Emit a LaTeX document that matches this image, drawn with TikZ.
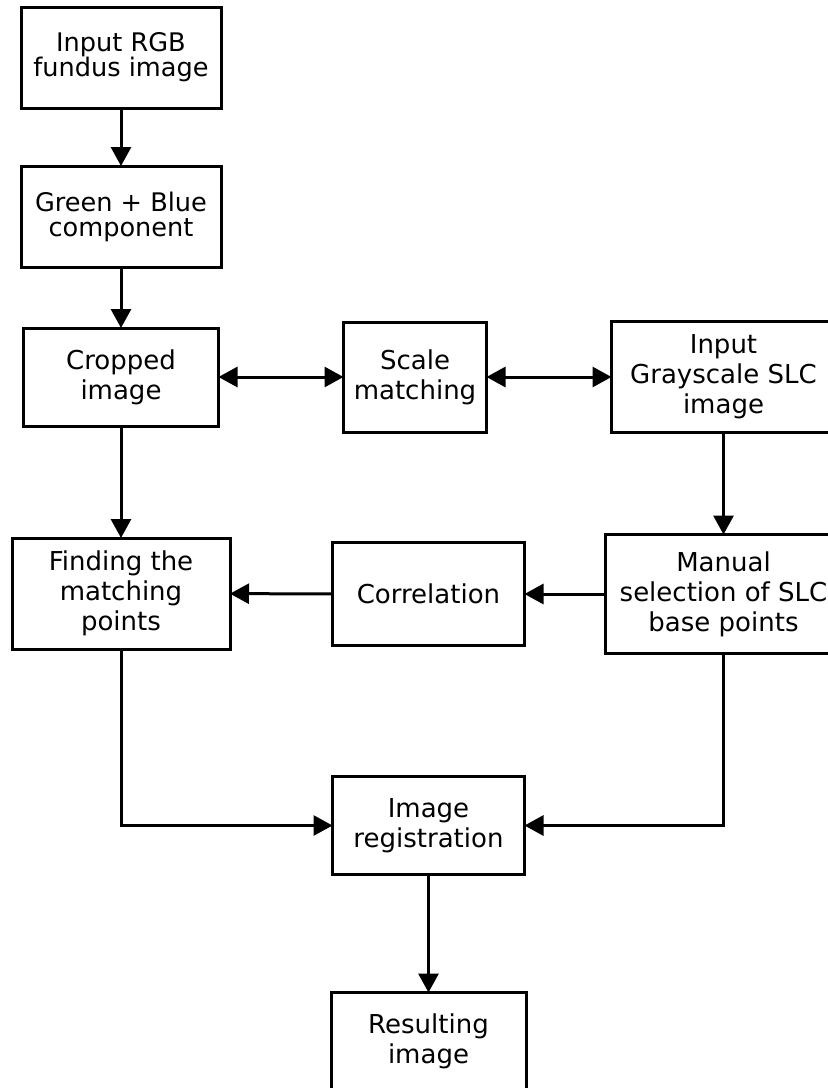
\documentclass[tikz,border=0pt]{standalone}
\usepackage{fontspec}
\setmainfont{DejaVu Sans}
\usetikzlibrary{positioning,arrows.meta}

\begin{document}
\begin{tikzpicture}[node distance=29pt and 62.5pt,
box/.style={rectangle,draw,line width=1.5pt,align=center,inner sep=2pt,outer sep=0pt,font=\fontsize{13}{15}\selectfont},
tight/.style={font=\fontsize{12.8}{12.5}\selectfont},
arrow/.style={-{Triangle[length=9.5pt,width=10pt]},line width=1.5pt},
twoway/.style={{Triangle[length=9.5pt,width=10pt]}-{Triangle[length=9.5pt,width=10pt]},line width=1.5pt}]
\path[use as bounding box,clip](0,0) rectangle (414pt,-544pt);
\node[box,tight,minimum width=100pt,minimum height=50.5pt] (rgb) at (60.5pt,-28.75pt) {Input RGB\\fundus image};
\node[box,tight,minimum width=100pt,minimum height=50.5pt,below=of rgb] (green) {Green + Blue\\component};
\node[box,minimum width=97.5pt,minimum height=49pt,below=30.5pt of green] (crop) {Cropped\\image};
\node[box,minimum width=109pt,minimum height=55.5pt,below=56pt of crop] (find) {Finding the\\matching\\points};
\node[box,minimum width=71.5pt,minimum height=55pt,right=of crop] (scale) {Scale\\matching};
\node[box,minimum width=112pt,minimum height=55.5pt,right=of scale] (gray) {Input\\Grayscale SLC\\image};
\node[box,minimum width=118pt,minimum height=59.5pt,below=51pt of gray] (manual) {Manual\\selection of SLC\\base points};
\node[box,minimum width=96pt,minimum height=51.5pt,left=40.5pt of manual] (corr) {Correlation};
\node[box,minimum width=96pt,minimum height=49pt,below=65.5pt of corr] (reg) {Image\\registration};
\node[box,minimum width=97.5pt,minimum height=49pt,below=59pt of reg] (result) {Resulting\\image};
\draw[arrow](rgb)--(green);
\draw[arrow](green)--(crop);
\draw[arrow](crop)--(find);
\draw[twoway](crop)--(scale);
\draw[twoway](scale)--(gray);
\draw[arrow](gray)--(manual);
\draw[arrow](manual)--(corr);
\draw[arrow](corr)--(find);
\draw[arrow](find.south)|-(reg.west);
\draw[arrow](manual.south)|-(reg.east);
\draw[arrow](reg)--(result);
\end{tikzpicture}
\end{document}
